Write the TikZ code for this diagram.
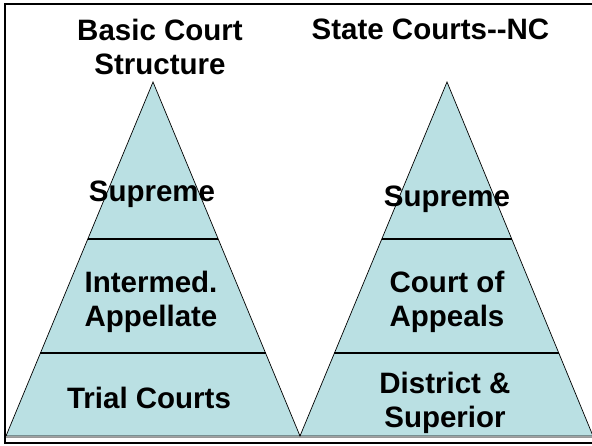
\documentclass[tikz,border=0pt]{standalone}
\usepackage{fontspec}
\setmainfont{Liberation Sans}
\usetikzlibrary{calc}
\definecolor{tierfill}{RGB}{186,224,227}
\tikzstyle{tier} = [draw=black, line width=0.7pt, fill=tierfill]
\tikzstyle{divider} = [draw=black, line width=1.6pt]
\tikzstyle{tiertext} = [align=center, inner sep=0pt,
font=\fontsize{29.5}{34}\selectfont\bfseries]
\tikzstyle{outerframe} = [draw=black, line width=2.4pt]
\tikzstyle{baseline} = [draw=gray!80, line width=0.8pt]

\begin{document}
\begin{tikzpicture}[x=1pt, y=-1pt]
    \useasboundingbox (0,0) rectangle (592,445);

    % left pyramid
    \coordinate (lapex) at (153,82);
    \coordinate (lbl) at (6,436);
    \coordinate (lbr) at (300,436);
    \path[tier] (lapex) -- (lbl) -- (lbr) -- cycle;
    \coordinate (lsupl) at ($(lapex)!0.4435!(lbl)$);
    \coordinate (lsupr) at ($(lapex)!0.4435!(lbr)$);
    \coordinate (lmidl) at ($(lapex)!0.7655!(lbl)$);
    \coordinate (lmidr) at ($(lapex)!0.7655!(lbr)$);
    \draw[divider] (lsupl) -- (lsupr);
    \draw[divider] (lmidl) -- (lmidr);

    % right pyramid
    \coordinate (rapex) at (447,82);
    \coordinate (rbl) at (300,436);
    \coordinate (rbr) at (593,436);
    \path[tier] (rapex) -- (rbl) -- (rbr) -- cycle;
    \coordinate (rsupl) at ($(rapex)!0.4435!(rbl)$);
    \coordinate (rsupr) at ($(rapex)!0.4435!(rbr)$);
    \coordinate (rmidl) at ($(rapex)!0.7655!(rbl)$);
    \coordinate (rmidr) at ($(rapex)!0.7655!(rbr)$);
    \draw[divider] (rsupl) -- (rsupr);
    \draw[divider] (rmidl) -- (rmidr);

    % frame
    \draw[baseline] (5,437) -- (592,437);
    \draw[outerframe] (592,4) -- (5,4) -- (5,443) -- (592,443);

    \node (ltitle) [tiertext] at (160,46.5) {Basic Court\\Structure};
    \node (rtitle) [tiertext] at (430.5,29.5) {State Courts-{}-NC};

    \node (lsup) [tiertext] at (152,194.5) {Supreme};
    \node (lmid) [tiertext] at (151,301.5) {Intermed.\\Appellate};
    \node (ltrial) [tiertext] at (149,397.5) {Trial Courts};

    \node (rsup) [tiertext] at (447,199.5) {Supreme};
    \node (rmid) [tiertext] at (447,301.5) {Court of\\Appeals};
    \node (rtrial) [tiertext] at (445,402.5) {District \&\\Superior};
\end{tikzpicture}
\end{document}
